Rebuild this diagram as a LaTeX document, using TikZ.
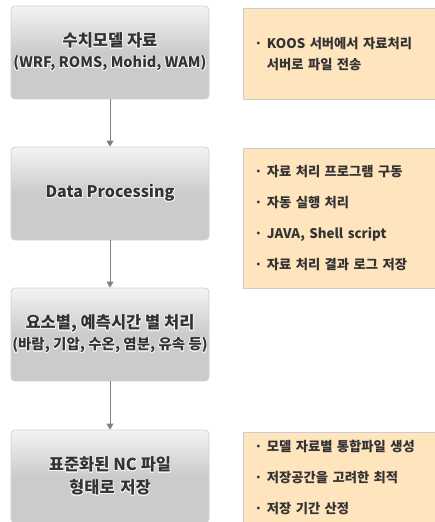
\documentclass[tikz,border=0pt]{standalone}
\usepackage{fontspec}
\setmainfont{Noto Sans CJK KR}
\usepackage{contour}
\contourlength{0.7pt}
\usetikzlibrary{arrows.meta}

\newlength{\du}
\setlength{\du}{1pt}

\definecolor{boxline}{rgb}{0.820000, 0.820000, 0.820000}
\definecolor{boxtop}{rgb}{0.955000, 0.955000, 0.955000}
\definecolor{boxmid}{rgb}{0.795000, 0.795000, 0.795000}
\definecolor{notefill}{rgb}{1.000000, 0.900000, 0.745000}
\definecolor{noteline}{rgb}{0.800000, 0.800000, 0.800000}
\definecolor{flowline}{rgb}{0.500000, 0.500000, 0.500000}
\definecolor{glowcolor}{rgb}{0.960000, 0.960000, 0.960000}
\definecolor{dialinecolor}{rgb}{0.200000, 0.200000, 0.200000}

\tikzset{
  stagebox/.style={draw=boxline, line width=0.8\du, rounded corners=4\du,
    top color=boxtop, bottom color=boxmid, middle color=boxmid,
    minimum width=198\du, minimum height=93\du, inner sep=0pt, align=center,
    text=dialinecolor, font=\bfseries\fontsize{16.5}{21}\selectfont},
  notebox/.style={draw=noteline, fill=notefill, line width=0.8\du, anchor=north west,
    text width=178\du, inner xsep=11\du, inner ysep=0pt, align=left,
    text=dialinecolor, font=\bfseries\fontsize{13.3}{31}\selectfont},
  flow/.style={draw=flowline, line width=1\du, -{Triangle[width=7pt,length=6pt]}}
}

\newcommand{\glow}[1]{\contour{glowcolor}{#1}}
\newcommand{\subline}{\fontsize{14.5}{21}\selectfont}

\begin{document}
\begin{tikzpicture}[yscale=-1]
\useasboundingbox (0,0) rectangle (434\du,522\du);

% left column
\node[stagebox] (num) at (110\du,52.5\du) {\glow{수치모델 자료}\\{\subline\glow{(WRF, ROMS, Mohid, WAM)}}};
\node[stagebox] (proc) at (110\du,193.5\du) {\fontsize{16}{20}\selectfont\glow{Data Processing}};
\node[stagebox] (elem) at (110\du,334.5\du) {\glow{요소별, 예측시간 별 처리}\\{\subline\glow{(바람, 기압, 수온, 염분, 유속 등)}}};
\node[stagebox, font=\bfseries\fontsize{16.5}{23}\selectfont] (nc) at (110\du,476.5\du) {\glow{표준화된 NC 파일}\\\glow{형태로\hspace{0.35em}저장}};

% right column
\node[notebox, minimum height=91\du, font=\bfseries\fontsize{13.3}{21}\selectfont] (note1) at (243\du,8\du)
  {· KOOS 서버에서 자료처리\\\phantom{· }서버로 파일 전송};
\node[notebox, minimum height=140\du] (note2) at (243\du,148\du)
  {· 자료 처리 프로그램 구동\\· 자동 실행 처리\\· JAVA, Shell script\\· 자료 처리 결과 로그 저장};
\node[notebox, minimum height=90\du] (note4) at (243\du,432\du)
  {· 모델 자료별 통합파일 생성\\· 저장공간을 고려한 최적\\· 저장 기간 산정};

\draw[flow] (num) -- (proc);
\draw[flow] (proc) -- (elem);
\draw[flow] (elem) -- (nc);
\end{tikzpicture}
\end{document}
